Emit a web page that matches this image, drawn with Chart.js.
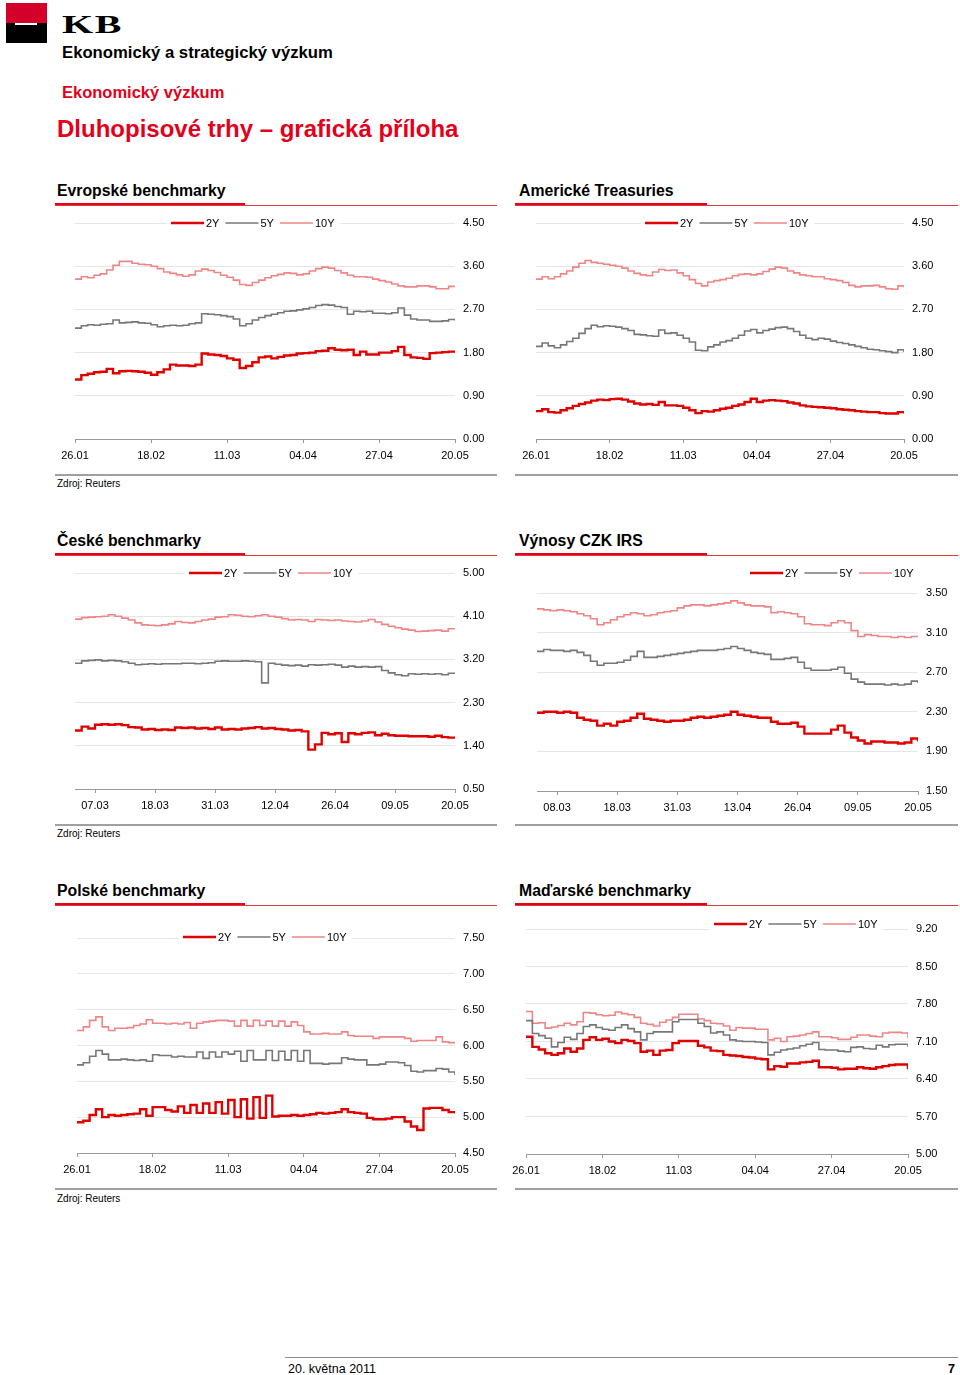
<!DOCTYPE html>
<html>
<head>
<meta charset="utf-8">
<script src="https://cdn.jsdelivr.net/npm/chart.js@4.4.0/dist/chart.umd.min.js"></script>
<style>
  body { margin: 0; background: #fff; font-family: "Liberation Sans", Arial, sans-serif; color: #000; }
  #page { position: relative; width: 960px; height: 1375px; overflow: hidden; }
  .abs { position: absolute; white-space: nowrap; }
  .logo { left: 6px; top: 3px; width: 41px; height: 40px; background: #000; }
  .logo .r { position: absolute; left: 0; top: 0; width: 41px; height: 20px; background: #d4002a; }
  .logo .w { position: absolute; left: 9px; top: 20px; width: 22px; height: 2px; background: #fff; }
  .kb { left: 62px; top: 12px; font-family: "Liberation Serif", "DejaVu Serif", serif; font-weight: bold;
        font-size: 25px; line-height: 25px; letter-spacing: 1px; transform: scaleX(1.6); transform-origin: left; }
  .h1 { left: 62px; top: 45px; font-size: 16.7px; line-height: 16.7px; font-weight: bold; }
  .h2 { left: 62px; top: 84px; font-size: 16.5px; line-height: 16.5px; font-weight: bold; color: #e3001b; }
  .h3 { left: 57px; top: 117px; font-size: 24px; line-height: 24px; font-weight: bold; color: #e3001b; }
  .ttl { font-size: 15.8px; line-height: 15.8px; font-weight: bold; }
  .thick { height: 3px; background: #e2001a; }
  .thin { height: 1px; background: #e2383a; }
  .sep { height: 1.5px; background: #a0a0a0; }
  .src { font-size: 10px; line-height: 10px; }
  .wrap { position: absolute; }
  .foot { font-size: 12.5px; line-height: 12.5px; }
</style>
</head>
<body>
<div id="page">
  <div class="abs logo"><div class="r"></div><div class="w"></div></div>
  <div class="abs kb">KB</div>
  <div class="abs h1">Ekonomický a strategický výzkum</div>
  <div class="abs h2">Ekonomický výzkum</div>
  <div class="abs h3">Dluhopisové trhy – grafická příloha</div>

  <!-- row 1 -->
  <div class="abs ttl" style="left:57px;top:183px">Evropské benchmarky</div>
  <div class="abs ttl" style="left:519px;top:183px">Americké Treasuries</div>
  <div class="abs thick" style="left:55px;top:203px;width:190px"></div>
  <div class="abs thin" style="left:55px;top:205px;width:442px"></div>
  <div class="abs thick" style="left:515px;top:203px;width:192px"></div>
  <div class="abs thin" style="left:515px;top:205px;width:443px"></div>
  <div class="abs sep" style="left:55px;top:474px;width:442px"></div>
  <div class="abs sep" style="left:515px;top:474px;width:443px"></div>
  <div class="abs src" style="left:57px;top:479px">Zdroj: Reuters</div>

  <!-- row 2 -->
  <div class="abs ttl" style="left:57px;top:533px">České benchmarky</div>
  <div class="abs ttl" style="left:519px;top:533px">Výnosy CZK IRS</div>
  <div class="abs thick" style="left:55px;top:553px;width:190px"></div>
  <div class="abs thin" style="left:55px;top:555px;width:442px"></div>
  <div class="abs thick" style="left:515px;top:553px;width:192px"></div>
  <div class="abs thin" style="left:515px;top:555px;width:443px"></div>
  <div class="abs sep" style="left:55px;top:824px;width:442px"></div>
  <div class="abs sep" style="left:515px;top:824px;width:443px"></div>
  <div class="abs src" style="left:57px;top:829px">Zdroj: Reuters</div>

  <!-- row 3 -->
  <div class="abs ttl" style="left:57px;top:883px">Polské benchmarky</div>
  <div class="abs ttl" style="left:519px;top:883px">Maďarské benchmarky</div>
  <div class="abs thick" style="left:55px;top:903px;width:190px"></div>
  <div class="abs thin" style="left:55px;top:905px;width:442px"></div>
  <div class="abs thick" style="left:515px;top:903px;width:192px"></div>
  <div class="abs thin" style="left:515px;top:905px;width:443px"></div>
  <div class="abs sep" style="left:55px;top:1188px;width:442px"></div>
  <div class="abs sep" style="left:515px;top:1188px;width:443px"></div>
  <div class="abs src" style="left:57px;top:1194px">Zdroj: Reuters</div>

  <div class="wrap" id="w-eu"><canvas id="c-eu"></canvas></div>
  <div class="wrap" id="w-us"><canvas id="c-us"></canvas></div>
  <div class="wrap" id="w-cz"><canvas id="c-cz"></canvas></div>
  <div class="wrap" id="w-irs"><canvas id="c-irs"></canvas></div>
  <div class="wrap" id="w-pl"><canvas id="c-pl"></canvas></div>
  <div class="wrap" id="w-hu"><canvas id="c-hu"></canvas></div>

  <!-- footer -->
  <div class="abs" style="left:285px;top:1357px;width:673px;height:1px;background:#8a8a8a"></div>
  <div class="abs foot" style="left:288px;top:1363px">20. května 2011</div>
  <div class="abs foot" style="left:948px;top:1363px;font-weight:bold">7</div>
</div>

<script>
// tick labels
const longLabels = ['26.01', '18.02', '11.03', '04.04', '27.04', '20.05'];
const longIdx = [0, 12, 24, 36, 48, 60];
const czLabels = ['07.03', '18.03', '31.03', '12.04', '26.04', '09.05', '20.05'];
const irsLabels = ['08.03', '18.03', '31.03', '13.04', '26.04', '09.05', '20.05'];
const shortIdx = [3, 12, 21, 30, 39, 48, 57];

const euTicks = [0, 0.9, 1.8, 2.7, 3.6, 4.5];
const czTicks = [0.5, 1.4, 2.3, 3.2, 4.1, 5.0];
const irsTicks = [1.5, 1.9, 2.3, 2.7, 3.1, 3.5];
const plTicks = [4.5, 5.0, 5.5, 6.0, 6.5, 7.0, 7.5];
const huTicks = [5.0, 5.7, 6.4, 7.1, 7.8, 8.5, 9.2];

// Evropské benchmarky
const eu2y = [1.24,1.33,1.36,1.39,1.40,1.46,1.37,1.41,1.42,1.41, 1.40,1.38,1.34,1.39,1.45,1.55,1.53,1.53,1.52,1.55,
  1.78,1.76,1.75,1.73,1.68,1.65,1.48,1.52,1.60,1.70, 1.72,1.68,1.71,1.74,1.75,1.78,1.79,1.80,1.83,1.84,
  1.89,1.86,1.85,1.86,1.75,1.82,1.76,1.76,1.80,1.80, 1.83,1.92,1.75,1.70,1.69,1.67,1.79,1.80,1.81,1.82, 1.80];
const eu5y = [2.31,2.36,2.38,2.37,2.39,2.40,2.48,2.42,2.43,2.44, 2.42,2.41,2.38,2.34,2.36,2.37,2.36,2.37,2.40,2.42,
  2.61,2.60,2.59,2.57,2.55,2.50,2.36,2.40,2.48,2.53, 2.57,2.60,2.63,2.66,2.67,2.69,2.71,2.74,2.78,2.80,
  2.79,2.76,2.74,2.60,2.66,2.65,2.66,2.62,2.62,2.61, 2.63,2.73,2.58,2.50,2.48,2.48,2.45,2.45,2.46,2.49, 2.47];
const eu10y = [3.33,3.38,3.36,3.41,3.44,3.52,3.62,3.70,3.70,3.66, 3.64,3.63,3.60,3.55,3.48,3.45,3.42,3.39,3.42,3.50,
  3.54,3.51,3.47,3.41,3.37,3.31,3.22,3.20,3.26,3.31, 3.36,3.40,3.43,3.46,3.45,3.42,3.44,3.50,3.55,3.58,
  3.56,3.51,3.46,3.41,3.38,3.38,3.37,3.33,3.30,3.27, 3.23,3.19,3.17,3.17,3.19,3.19,3.17,3.13,3.13,3.18, 3.16];

// Americké Treasuries
const us2y = [0.58,0.62,0.56,0.55,0.60,0.64,0.69,0.73,0.76,0.80, 0.82,0.81,0.83,0.84,0.82,0.78,0.74,0.72,0.73,0.71,
  0.77,0.70,0.70,0.69,0.65,0.60,0.54,0.58,0.57,0.60, 0.63,0.65,0.69,0.72,0.77,0.84,0.77,0.80,0.81,0.80,
  0.79,0.76,0.74,0.70,0.68,0.67,0.66,0.65,0.64,0.62, 0.61,0.60,0.58,0.57,0.56,0.56,0.54,0.53,0.53,0.56, 0.53];
const us5y = [1.93,2.00,1.94,1.90,1.96,2.03,2.10,2.20,2.30,2.37, 2.34,2.36,2.35,2.33,2.30,2.26,2.18,2.17,2.15,2.14,
  2.27,2.20,2.21,2.16,2.10,2.02,1.85,1.84,1.92,1.96, 2.02,2.05,2.10,2.16,2.25,2.28,2.21,2.26,2.29,2.32,
  2.33,2.30,2.24,2.16,2.10,2.07,2.10,2.08,2.04,2.01, 1.99,1.96,1.93,1.90,1.87,1.86,1.84,1.82,1.80,1.86, 1.81];
const us10y = [3.33,3.38,3.34,3.38,3.44,3.50,3.58,3.66,3.72,3.68, 3.66,3.64,3.62,3.60,3.56,3.50,3.45,3.42,3.40,3.48,
  3.53,3.51,3.52,3.46,3.40,3.32,3.24,3.19,3.27,3.30, 3.32,3.35,3.40,3.43,3.44,3.42,3.44,3.49,3.54,3.58,
  3.56,3.50,3.46,3.42,3.40,3.38,3.38,3.34,3.32,3.30, 3.26,3.20,3.17,3.19,3.19,3.20,3.17,3.13,3.12,3.19, 3.16];

// České benchmarky
const cz2y = [1.72,1.80,1.76,1.84,1.85,1.84,1.85,1.83,1.79,1.78, 1.74,1.75,1.73,1.74,1.73,1.78,1.77,1.78,1.76,1.77,
  1.75,1.78,1.74,1.75,1.74,1.76,1.77,1.79,1.76,1.77, 1.75,1.74,1.72,1.73,1.70,1.32,1.43,1.67,1.64,1.66,
  1.48,1.66,1.64,1.67,1.68,1.62,1.65,1.62,1.61,1.61, 1.60,1.60,1.60,1.59,1.61,1.58,1.57,1.56];
const cz5y = [3.12,3.17,3.18,3.19,3.17,3.18,3.17,3.15,3.12,3.09, 3.10,3.11,3.10,3.11,3.11,3.11,3.12,3.12,3.11,3.12,
  3.13,3.16,3.17,3.16,3.16,3.17,3.16,3.15,2.71,3.12, 3.10,3.08,3.07,3.08,3.06,3.09,3.08,3.09,3.10,3.08,
  3.04,3.06,3.04,3.05,3.04,3.05,2.97,2.92,2.88,2.86, 2.90,2.89,2.90,2.89,2.90,2.88,2.91,2.90];
const cz10y = [4.04,4.07,4.08,4.09,4.10,4.13,4.10,4.06,4.02,3.96, 3.92,3.91,3.90,3.92,3.94,3.99,3.97,3.96,3.99,4.02,
  4.04,4.08,4.09,4.13,4.12,4.10,4.09,4.11,4.13,4.10, 4.08,4.05,4.02,4.03,4.02,3.99,4.03,4.02,4.01,4.02,
  4.00,3.99,3.98,4.00,4.03,3.98,3.93,3.89,3.86,3.83, 3.81,3.78,3.79,3.80,3.81,3.79,3.84,3.84];

// Výnosy CZK IRS
const irs2y = [2.29,2.30,2.30,2.29,2.30,2.29,2.24,2.22,2.21,2.16, 2.18,2.16,2.20,2.21,2.24,2.28,2.23,2.22,2.21,2.20,
  2.21,2.21,2.22,2.24,2.25,2.24,2.25,2.26,2.27,2.30, 2.27,2.26,2.25,2.24,2.24,2.20,2.18,2.18,2.19,2.15,
  2.08,2.08,2.08,2.08,2.12,2.16,2.09,2.04,2.01,1.98, 2.00,2.00,1.99,1.99,1.98,1.99,2.03,2.00];
const irs5y = [2.91,2.93,2.92,2.92,2.91,2.92,2.90,2.87,2.81,2.77, 2.79,2.79,2.80,2.82,2.86,2.91,2.85,2.85,2.86,2.87,
  2.88,2.89,2.90,2.91,2.92,2.92,2.92,2.93,2.94,2.96, 2.94,2.92,2.90,2.89,2.88,2.83,2.83,2.84,2.85,2.80,
  2.74,2.72,2.72,2.72,2.73,2.75,2.69,2.63,2.60,2.58, 2.58,2.58,2.57,2.58,2.57,2.58,2.61,2.59];
const irs10y = [3.34,3.33,3.32,3.33,3.32,3.31,3.29,3.27,3.24,3.18, 3.20,3.23,3.26,3.28,3.30,3.29,3.27,3.28,3.30,3.31,
  3.32,3.35,3.37,3.38,3.38,3.37,3.38,3.39,3.40,3.42, 3.40,3.38,3.37,3.37,3.36,3.30,3.31,3.30,3.29,3.26,
  3.19,3.18,3.18,3.17,3.20,3.22,3.20,3.12,3.06,3.08, 3.07,3.06,3.06,3.05,3.06,3.05,3.06,3.07];

// Polské benchmarky
const pl2y = [4.93,4.95,5.03,5.11,5.00,5.03,5.02,5.03,5.04,5.05, 5.11,5.02,5.14,5.14,5.10,5.08,5.15,5.06,5.17,5.06,
  5.19,5.06,5.21,5.05,5.24,5.00,5.25,4.98,5.28,4.99, 5.30,5.01,5.02,5.02,5.03,5.02,5.03,5.04,5.06,5.05,
  5.06,5.07,5.11,5.07,5.06,5.05,4.99,4.97,4.97,4.98, 5.00,5.00,4.94,4.87,4.82,5.12,5.13,5.13,5.10,5.07, 5.05];
const pl5y = [5.73,5.76,5.85,5.93,5.88,5.80,5.80,5.81,5.80,5.79, 5.80,5.78,5.87,5.86,5.86,5.84,5.85,5.84,5.84,5.91,
  5.82,5.91,5.84,5.91,5.88,5.92,5.78,5.93,5.80,5.80, 5.93,5.79,5.92,5.80,5.93,5.78,5.93,5.75,5.75,5.74,
  5.75,5.75,5.83,5.81,5.80,5.80,5.73,5.73,5.74,5.77, 5.77,5.76,5.72,5.64,5.63,5.65,5.65,5.68,5.67,5.63, 5.59];
const pl10y = [6.21,6.26,6.35,6.40,6.26,6.21,6.24,6.24,6.25,6.28, 6.30,6.36,6.31,6.31,6.30,6.31,6.30,6.32,6.24,6.31,
  6.33,6.34,6.35,6.35,6.34,6.27,6.35,6.27,6.35,6.28, 6.34,6.27,6.34,6.27,6.33,6.28,6.19,6.16,6.16,6.17,
  6.16,6.16,6.19,6.14,6.13,6.13,6.13,6.10,6.12,6.12, 6.12,6.12,6.10,6.06,6.07,6.07,6.07,6.12,6.05,6.04, 6.03];

// Maďarské benchmarky
const hu2y = [7.19,7.00,6.95,6.88,6.85,6.88,6.97,6.91,6.97,7.13, 7.18,7.13,7.15,7.10,7.07,7.13,7.11,7.07,6.91,6.93,
  6.85,6.93,6.94,7.07,7.11,7.11,7.11,7.02,6.99,6.93, 6.92,6.85,6.84,6.83,6.81,6.80,6.78,6.77,6.58,6.64,
  6.63,6.69,6.69,6.71,6.72,6.74,6.62,6.62,6.61,6.58, 6.59,6.59,6.62,6.60,6.59,6.62,6.64,6.66,6.67,6.67, 6.58];
const hu5y = [7.49,7.25,7.21,7.16,7.00,7.08,7.18,7.14,7.25,7.38, 7.41,7.36,7.33,7.31,7.36,7.41,7.34,7.28,7.13,7.25,
  7.28,7.28,7.28,7.47,7.51,7.51,7.51,7.44,7.38,7.26, 7.28,7.22,7.13,7.11,7.10,7.10,7.09,7.08,6.85,6.90,
  6.94,6.96,6.98,7.02,7.05,7.08,6.95,6.94,6.94,6.92, 6.91,6.99,7.00,6.97,6.96,7.03,7.00,7.04,7.05,7.05, 7.00];
const hu10y = [7.66,7.44,7.45,7.35,7.37,7.40,7.44,7.41,7.47,7.64, 7.63,7.60,7.58,7.59,7.65,7.62,7.60,7.55,7.44,7.42,
  7.39,7.46,7.50,7.55,7.61,7.61,7.61,7.52,7.49,7.44, 7.43,7.39,7.31,7.36,7.35,7.35,7.33,7.33,7.13,7.16,
  7.10,7.19,7.20,7.22,7.25,7.28,7.19,7.19,7.17,7.14, 7.14,7.18,7.22,7.22,7.20,7.19,7.26,7.27,7.27,7.26, 7.16];

const RED = '#e00000';
const GREY = '#777777';
const PINK = '#ef8585';

Chart.defaults.font.family = '"Liberation Sans", Arial, sans-serif';
Chart.defaults.font.size = 11;
Chart.defaults.color = '#000';

// legend drawn over the top gridline, on a white box
const inlineLegend = {
  id: 'inlineLegend',
  afterDraw(chart, args, opts) {
    const ctx = chart.ctx;
    ctx.save();
    ctx.font = '11px "Liberation Sans", Arial, sans-serif';
    const sets = chart.data.datasets;
    let total = 0;
    sets.forEach(ds => { total += 35 + ctx.measureText(ds.label).width + 6; });
    ctx.fillStyle = '#fff';
    ctx.fillRect(opts.x - 4, opts.y - 6, total + 4, 12);
    let x = opts.x;
    sets.forEach(ds => {
      ctx.strokeStyle = ds.borderColor;
      ctx.lineWidth = ds.borderWidth;
      ctx.beginPath();
      ctx.moveTo(x, opts.y);
      ctx.lineTo(x + 33, opts.y);
      ctx.stroke();
      ctx.fillStyle = '#000';
      ctx.textBaseline = 'middle';
      ctx.fillText(ds.label, x + 35, opts.y + 0.5);
      x += 35 + ctx.measureText(ds.label).width + 6;
    });
    ctx.restore();
  }
};

function drawChart(key, box, plot, legendAt, xIdx, xLabels, yTicks, s2, s5, s10) {
  const wrap = document.getElementById('w-' + key);
  wrap.style.left = box.x + 'px';
  wrap.style.top = box.y + 'px';
  wrap.style.width = box.w + 'px';
  wrap.style.height = box.h + 'px';
  const yW = 36, xH = 30;
  const pts = arr => arr.map((v, i) => ({ x: i, y: v }));

  new Chart(document.getElementById('c-' + key), {
    type: 'line',
    data: {
      datasets: [
        { label: '2Y', data: pts(s2), borderColor: RED, borderWidth: 2.4 },
        { label: '5Y', data: pts(s5), borderColor: GREY, borderWidth: 1.6 },
        { label: '10Y', data: pts(s10), borderColor: PINK, borderWidth: 1.6 }
      ]
    },
    options: {
      animation: false,
      responsive: true,
      maintainAspectRatio: false,
      datasets: { line: { pointRadius: 0, stepped: true, fill: false } },
      layout: {
        padding: {
          left: plot.l - box.x,
          top: plot.t - box.y,
          right: box.x + box.w - plot.r - yW,
          bottom: box.y + box.h - plot.b - xH
        }
      },
      plugins: {
        legend: { display: false },
        tooltip: { enabled: false },
        inlineLegend: { x: legendAt.x - box.x, y: legendAt.y - box.y }
      },
      scales: {
        x: {
          type: 'linear',
          min: 0,
          max: s2.length - 1,
          afterBuildTicks: s => { s.ticks = xIdx.map(v => ({ value: v })); },
          afterFit: s => { s.height = xH; s.paddingLeft = 0; s.paddingRight = 0; },
          ticks: { autoSkip: false, maxRotation: 0, padding: 6, callback: (v, i) => xLabels[i] },
          grid: { drawOnChartArea: false, drawTicks: true, tickLength: 4, color: '#9a9a9a' },
          border: { display: true, color: '#9a9a9a', width: 1 }
        },
        y: {
          position: 'right',
          min: yTicks[0],
          max: yTicks[yTicks.length - 1],
          afterBuildTicks: s => { s.ticks = yTicks.map(v => ({ value: v })); },
          afterFit: s => { s.width = yW; s.paddingTop = 0; s.paddingBottom = 0; },
          ticks: { padding: 8, callback: v => Number(v).toFixed(2) },
          grid: { color: '#e6e6e6', drawTicks: false },
          border: { display: false }
        }
      }
    },
    plugins: [inlineLegend]
  });
}

drawChart('eu', { x: 50, y: 212, w: 447, h: 262 }, { l: 75, t: 223, r: 455, b: 439 }, { x: 171, y: 223 },
  longIdx, longLabels, euTicks, eu2y, eu5y, eu10y);
drawChart('us', { x: 512, y: 212, w: 446, h: 262 }, { l: 536, t: 223, r: 904, b: 439 }, { x: 645, y: 223 },
  longIdx, longLabels, euTicks, us2y, us5y, us10y);
drawChart('cz', { x: 50, y: 562, w: 447, h: 262 }, { l: 75, t: 573, r: 455, b: 789 }, { x: 189, y: 573 },
  shortIdx, czLabels, czTicks, cz2y, cz5y, cz10y);
drawChart('irs', { x: 512, y: 562, w: 446, h: 262 }, { l: 537, t: 593, r: 918, b: 791 }, { x: 750, y: 573 },
  shortIdx, irsLabels, irsTicks, irs2y, irs5y, irs10y);
drawChart('pl', { x: 50, y: 915, w: 447, h: 273 }, { l: 77, t: 938, r: 455, b: 1153 }, { x: 183, y: 937 },
  longIdx, longLabels, plTicks, pl2y, pl5y, pl10y);
drawChart('hu', { x: 505, y: 915, w: 453, h: 273 }, { l: 526, t: 929, r: 908, b: 1154 }, { x: 714, y: 924 },
  longIdx, longLabels, huTicks, hu2y, hu5y, hu10y);
</script>
</body>
</html>
